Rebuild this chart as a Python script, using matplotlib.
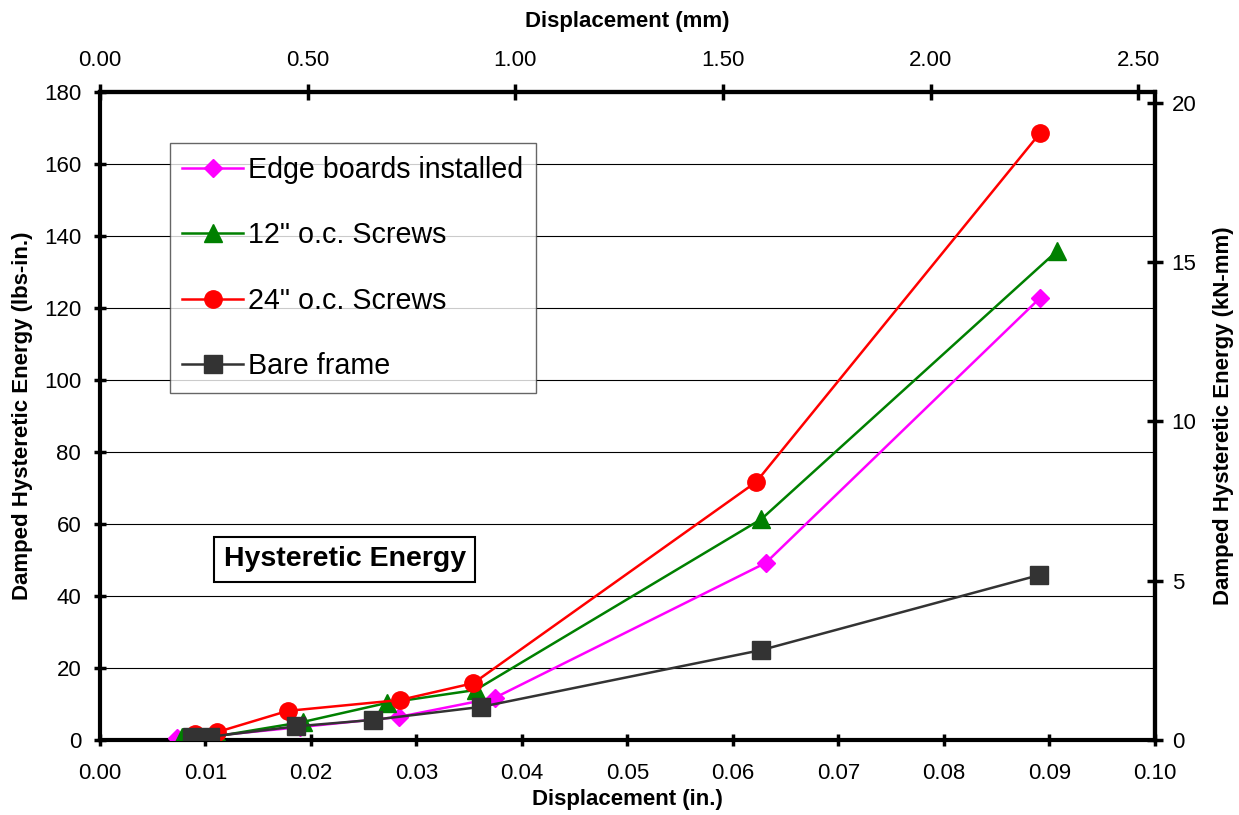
import matplotlib as mpl
mpl.use('agg')
mpl.rcParams['font.family'] = ['Liberation Sans', 'DejaVu Sans']
mpl.rcParams['font.size'] = 16

import matplotlib.pyplot as plt
from matplotlib.ticker import FormatStrFormatter

# displacement (in.) / damped hysteretic energy (lbs-in.)
edge_x = [0.0073, 0.0092, 0.0108, 0.0190, 0.0283, 0.0374, 0.0631, 0.0891]
edge_y = [0.6, 1.0, 1.2, 3.6, 6.4, 11.7, 49.2, 122.8]

s12_x = [0.0078, 0.0112, 0.0192, 0.0272, 0.0356, 0.0627, 0.0907]
s12_y = [0.8, 1.1, 5.0, 10.3, 13.9, 61.4, 135.8]

s24_x = [0.0090, 0.0111, 0.0178, 0.0284, 0.0354, 0.0622, 0.0891]
s24_y = [1.7, 2.2, 8.1, 11.1, 15.8, 71.7, 168.6]

bare_x = [0.0087, 0.0104, 0.0186, 0.0259, 0.0361, 0.0627, 0.0890]
bare_y = [0.8, 0.9, 3.8, 5.6, 9.2, 25.0, 45.8]

IN_TO_MM = 25.4
LBIN_TO_KNMM = 0.113


def main():
    fig = plt.figure(figsize=(12.39, 8.15), dpi=100)
    ax = fig.add_axes([0.0807, 0.092, 0.8515, 0.795])

    ax.plot(edge_x, edge_y, color='#FF00FF', lw=1.8, marker='D', ms=9.5,
            label='Edge boards installed', zorder=3)
    ax.plot(s12_x, s12_y, color='#008000', lw=1.8, marker='^', ms=12.5,
            label='12" o.c. Screws', zorder=3)
    ax.plot(s24_x, s24_y, color='#FF0000', lw=1.8, marker='o', ms=12.5,
            label='24" o.c. Screws', zorder=3)
    ax.plot(bare_x, bare_y, color='#333333', lw=1.8, marker='s', ms=12.5,
            label='Bare frame', zorder=4)

    ax.set_xlim(0, 0.1)
    ax.set_ylim(0, 180)
    ax.set_xticks([i / 100 for i in range(11)])
    ax.set_yticks(range(0, 181, 20))
    ax.xaxis.set_major_formatter(FormatStrFormatter('%.2f'))
    ax.yaxis.grid(True, color='black', linewidth=0.8)
    ax.set_axisbelow(True)
    for sp in ax.spines.values():
        sp.set_linewidth(3)
    ax.tick_params(direction='inout', length=9, width=2.5)
    ax.tick_params(axis='x', pad=12)
    ax.tick_params(axis='y', pad=9)
    ax.set_xlabel('Displacement (in.)', fontweight='bold', labelpad=4)
    ax.set_ylabel('Damped Hysteretic Energy (lbs-in.)', fontweight='bold', labelpad=8)

    top = ax.secondary_xaxis('top', functions=(lambda x: x * IN_TO_MM,
                                               lambda x: x / IN_TO_MM))
    top.set_xticks([0, 0.5, 1.0, 1.5, 2.0, 2.5])
    top.xaxis.set_major_formatter(FormatStrFormatter('%.2f'))
    top.tick_params(direction='inout', length=12, width=2.5, pad=9)
    top.spines['top'].set_linewidth(3)
    top.set_xlabel('Displacement (mm)', fontweight='bold', labelpad=17)

    right = ax.secondary_yaxis('right', functions=(lambda y: y * LBIN_TO_KNMM,
                                                   lambda y: y / LBIN_TO_KNMM))
    right.set_yticks([0, 5, 10, 15, 20])
    right.tick_params(direction='inout', length=12, width=2.5, pad=6)
    right.spines['right'].set_linewidth(3)
    right.set_ylabel('Damped Hysteretic Energy (kN-mm)', fontweight='bold', labelpad=12)

    leg = ax.legend(loc='upper left', bbox_to_anchor=(0.066, 0.921), fontsize=20.6,
                    frameon=True, fancybox=False, borderpad=0.45, labelspacing=1.3,
                    handlelength=2.1, handletextpad=0.2, borderaxespad=0)
    leg.get_frame().set_edgecolor('#404040')
    leg.get_frame().set_linewidth(1.0)

    ax.text(0.232, 0.279, 'Hysteretic Energy', transform=ax.transAxes,
            ha='center', va='center', fontsize=20.5, fontweight='bold',
            bbox=dict(boxstyle='square,pad=0.33', fc='white', ec='black', lw=1.5))

    fig.savefig('out.png', dpi=100)
    fig.clf()


if __name__ == '__main__':
    main()
